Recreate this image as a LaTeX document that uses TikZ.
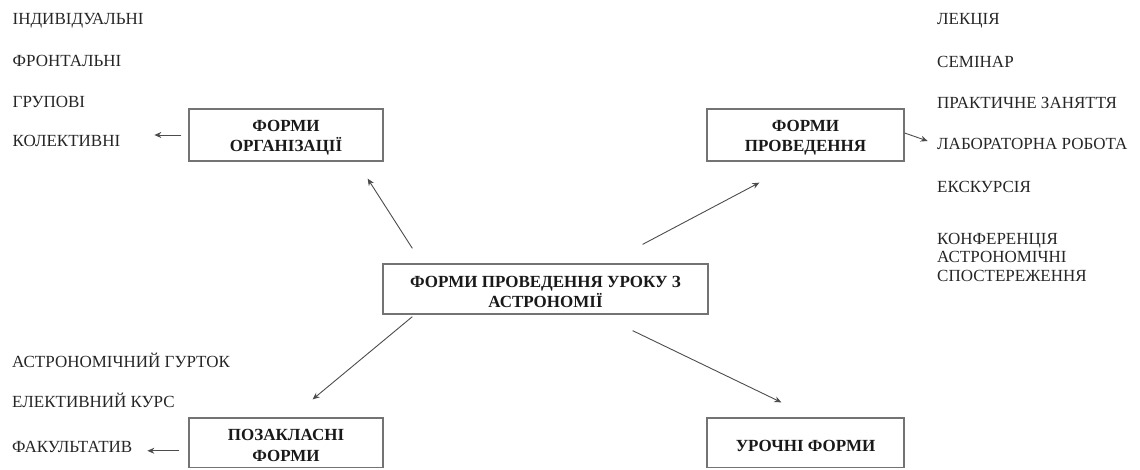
\documentclass[tikz,border=0pt]{standalone}
\usepackage{fontspec}
\setmainfont{Liberation Serif}
\usetikzlibrary{arrows.meta}
\newcommand\bxstrut{\rule{0pt}{17pt}}
\begin{document}
\begin{tikzpicture}[x=1pt,y=-1pt,
  box/.style={draw=black!55, line width=1.3pt, inner sep=0pt,
    font=\fontsize{17}{20.5}\selectfont\bfseries, align=center, text=black!90},
  item/.style={anchor=base west, inner sep=0pt,
    font=\fontsize{17}{19}\selectfont, text=black!85},
  arr/.style={draw=black!70, line width=0.9pt, -{Stealth[length=7pt,width=6pt]}}]
\useasboundingbox (0,0) rectangle (1140,469);

% boxes
\node[box, minimum width=194pt, minimum height=52pt] (org) at (286,135) {\bxstrut ФОРМИ\\ОРГАНІЗАЦІЇ};
\node[box, minimum width=197pt, minimum height=52pt] (prov) at (805.5,135) {\bxstrut ФОРМИ\\ПРОВЕДЕННЯ};
\node[box, minimum width=325pt, minimum height=50pt] (main) at (545.5,289) {\bxstrut ФОРМИ ПРОВЕДЕННЯ УРОКУ З\\АСТРОНОМІЇ};
\node[box, minimum width=194pt, minimum height=49.5pt] (poz) at (286,442.75) {\bxstrut ПОЗАКЛАСНІ\\ФОРМИ};
\node[box, minimum width=197pt, minimum height=49.5pt] (uroch) at (805.5,442.75) {\bxstrut УРОЧНІ ФОРМИ};

% left list
\node[item] (l1) at (12.5,24) {ІНДИВІДУАЛЬНІ};
\node[item] (l2) at (12.5,66) {ФРОНТАЛЬНІ};
\node[item] (l3) at (12.5,107.5) {ГРУПОВІ};
\node[item] (l4) at (12.5,146.5) {КОЛЕКТИВНІ};

% right list
\node[item] (r1) at (937,24) {ЛЕКЦІЯ};
\node[item] (r2) at (937,67) {СЕМІНАР};
\node[item] (r3) at (937,108.5) {ПРАКТИЧНЕ ЗАНЯТТЯ};
\node[item] (r4) at (937,149) {ЛАБОРАТОРНА РОБОТА};
\node[item] (r5) at (937,192.5) {ЕКСКУРСІЯ};
\node[item] (r6) at (937,244) {КОНФЕРЕНЦІЯ};
\node[item] (r7) at (937,262.7) {АСТРОНОМІЧНІ};
\node[item] (r8) at (937,281.7) {СПОСТЕРЕЖЕННЯ};

% bottom-left list
\node[item] (b1) at (12,367) {АСТРОНОМІЧНИЙ ГУРТОК};
\node[item] (b2) at (12,407) {ЕЛЕКТИВНИЙ КУРС};
\node[item] (b3) at (12,452.5) {ФАКУЛЬТАТИВ};

% connector ends
\coordinate (s1) at ([shift={(30,-15)}]main.north west);
\coordinate (e1) at ([shift={(-16,17)}]org.south east);
\coordinate (s2) at ([shift={(-66,-19)}]main.north east);
\coordinate (e2) at ([shift={(53,21)}]prov.south west);
\coordinate (s3) at ([shift={(30,2)}]main.south west);
\coordinate (e3) at ([shift={(-71,-18)}]poz.north east);
\coordinate (s4) at ([shift={(-76,16)}]main.south east);
\coordinate (e4) at ([shift={(75,-15)}]uroch.north west);
\coordinate (s5) at ([xshift=-7]org.west);
\coordinate (e5) at ([xshift=-34]org.west);
\coordinate (s6) at ([yshift=2]prov.east);
\coordinate (e6) at ([shift={(23,6)}]prov.east);
\coordinate (s7) at ([shift={(-9,8)}]poz.west);
\coordinate (e7) at ([shift={(-41,8)}]poz.west);

\draw[arr] (s1) -- (e1);
\draw[arr] (s2) -- (e2);
\draw[arr] (s3) -- (e3);
\draw[arr] (s4) -- (e4);
\draw[arr] (s5) -- (e5);
\draw[arr] (s6) -- (e6);
\draw[arr] (s7) -- (e7);
\end{tikzpicture}
\end{document}
